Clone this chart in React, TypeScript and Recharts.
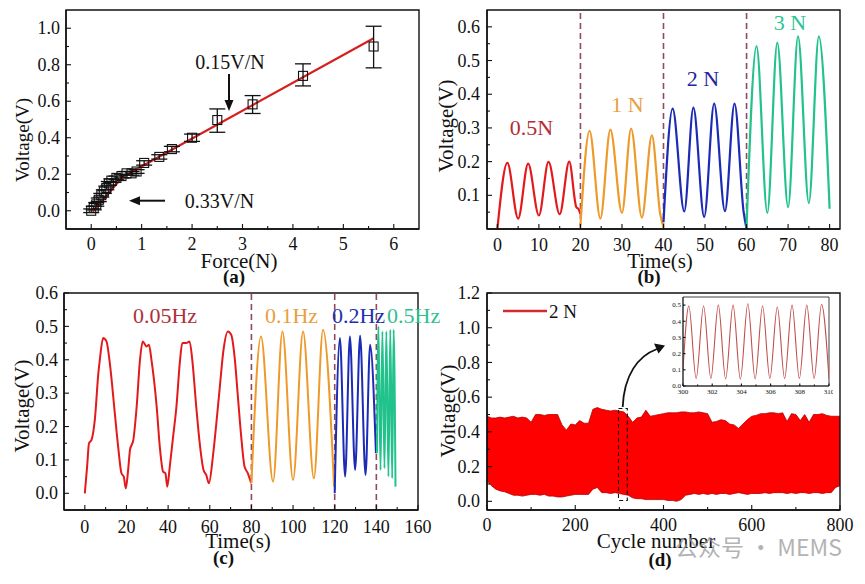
import {
  Area,
  ComposedChart,
  ErrorBar,
  Legend,
  Line,
  ReferenceArea,
  ReferenceLine,
  Scatter,
  XAxis,
  YAxis,
} from 'recharts';

const SERIF = '"Liberation Serif", "Times New Roman", serif';
const INK = '#111';
const RED = '#E31A1C';
const ORANGE = '#EE9A2A';
const BLUE = '#1C2BB5';
const GREEN = '#22C28C';
const DASH = '#8E4A5E';

// (a) voltage vs force
const forceN = [0.0, 0.05, 0.1, 0.15, 0.2, 0.25, 0.3, 0.35, 0.4, 0.5, 0.6, 0.7, 0.8, 0.9, 1.05, 1.35, 1.6, 2.0, 2.5, 3.2, 4.2, 5.6];
const forceV = [0.0, 0.015, 0.035, 0.06, 0.085, 0.105, 0.125, 0.15, 0.165, 0.18, 0.19, 0.205, 0.205, 0.215, 0.262, 0.295, 0.338, 0.4, 0.497, 0.583, 0.739, 0.9];
const forceErrLo = [0.01, 0.01, 0.01, 0.01, 0.01, 0.01, 0.01, 0.01, 0.01, 0.01, 0.01, 0.01, 0.01, 0.01, 0.012, 0.012, 0.015, 0.02, 0.067, 0.05, 0.055, 0.117];
const forceErrHi = [0.01, 0.01, 0.01, 0.01, 0.01, 0.01, 0.01, 0.01, 0.01, 0.01, 0.01, 0.01, 0.01, 0.01, 0.012, 0.012, 0.015, 0.02, 0.061, 0.048, 0.066, 0.111];
const fitN = [0.03, 0.62, 5.6];
const fitV = [-0.005, 0.185, 0.945];
const aTicksX = [0, 0.5, 1, 1.5, 2, 2.5, 3, 3.5, 4, 4.5, 5, 5.5, 6];
const aMajorX = [0, 1, 2, 3, 4, 5, 6];
const aTicksY = [0, 0.1, 0.2, 0.3, 0.4, 0.5, 0.6, 0.7, 0.8, 0.9, 1.0];
const aMajorY = [0, 0.2, 0.4, 0.6, 0.8, 1.0];

// (b) voltage under different forces
const b05T = [0, 2.4, 5, 7.4, 10, 12.3, 15, 17.3, 19.0, 19.6, 20];
const b05V = [0.0, 0.196, 0.031, 0.194, 0.04, 0.199, 0.044, 0.2, 0.065, 0.058, 0.045];
const b1T = [20, 22.2, 24.8, 27.2, 30, 32.2, 34.8, 37.2, 39.2, 40];
const b1V = [0.01, 0.291, 0.031, 0.295, 0.048, 0.298, 0.034, 0.278, 0.045, 0.005];
const b2T = [40, 42.2, 45, 47.2, 49.8, 52.2, 54.8, 57.1, 59.3, 60];
const b2V = [0.02, 0.357, 0.052, 0.36, 0.036, 0.372, 0.053, 0.372, 0.05, 0.0];
const b3T = [60, 62.4, 65, 67.4, 70, 72.4, 75, 77.4, 80];
const b3V = [0.005, 0.543, 0.048, 0.553, 0.065, 0.572, 0.077, 0.572, 0.06];
const bTicksX = [0, 5, 10, 15, 20, 25, 30, 35, 40, 45, 50, 55, 60, 65, 70, 75, 80];
const bMajorX = [0, 10, 20, 30, 40, 50, 60, 70, 80];
const bTicksY = [0.05, 0.1, 0.15, 0.2, 0.25, 0.3, 0.35, 0.4, 0.45, 0.5, 0.55, 0.6];
const bMajorY = [0.1, 0.2, 0.3, 0.4, 0.5, 0.6];
const bSplits = [20, 40, 60];

// (c) voltage under different frequencies
const c005T = [0, 1.1, 2, 3.2, 4.8, 6.5, 7.2, 8.8, 10.4, 12, 14.4, 16, 17.6, 18.7, 19.7, 20.8, 21.7, 23.3, 24.9, 26.5, 27.8, 29.7, 30.8, 32, 34.5, 36, 37.6, 38.7, 39.6, 40.8, 42.4, 44, 45.6, 46.8, 48.7, 50.3, 51.6, 53.5, 55, 57, 58.3, 59.6, 61.5, 63, 64.7, 66.6, 68.7, 70.3, 71.9, 73.5, 75.1, 76.7, 78.3, 79.9];
const c005V = [0.0, 0.08, 0.15, 0.16, 0.22, 0.36, 0.4, 0.465, 0.455, 0.39, 0.24, 0.14, 0.06, 0.05, 0.015, 0.07, 0.13, 0.16, 0.26, 0.4, 0.455, 0.44, 0.445, 0.4, 0.26, 0.14, 0.065, 0.06, 0.02, 0.08, 0.17, 0.26, 0.39, 0.45, 0.45, 0.455, 0.4, 0.26, 0.16, 0.07, 0.055, 0.03, 0.11, 0.2, 0.31, 0.43, 0.485, 0.475, 0.41, 0.29, 0.17, 0.08, 0.06, 0.03];
const c01T = [80, 84.6, 90.4, 94.9, 100, 104.8, 110, 114.4, 119.7];
const c01V = [0.03, 0.47, 0.035, 0.485, 0.04, 0.485, 0.045, 0.49, 0.02];
const c02T = [120, 122.5, 125, 127.3, 129.8, 132.2, 134.8, 137, 139.8];
const c02V = [0.0, 0.465, 0.05, 0.47, 0.07, 0.472, 0.055, 0.445, 0.12];
const c05T = [140.3, 141.0, 142.0, 142.9, 143.9, 144.8, 145.8, 146.7, 147.6, 148.3, 149.2];
const c05V = [0.12, 0.5, 0.07, 0.485, 0.075, 0.485, 0.05, 0.49, 0.045, 0.49, 0.02];
const cTicksX = [0, 10, 20, 30, 40, 50, 60, 70, 80, 90, 100, 110, 120, 130, 140, 150, 160];
const cMajorX = [0, 20, 40, 60, 80, 100, 120, 140, 160];
const cTicksY = [0, 0.05, 0.1, 0.15, 0.2, 0.25, 0.3, 0.35, 0.4, 0.45, 0.5, 0.55, 0.6];
const cMajorY = [0, 0.1, 0.2, 0.3, 0.4, 0.5, 0.6];
const cSplits = [80, 120, 140];

// (d) cycling test envelope (every 10 cycles)
const dCycle = [0, 10, 20, 30, 40, 50, 60, 70, 80, 90, 100, 110, 120, 130, 140, 150, 160, 170, 180, 190, 200, 210, 220, 230, 240, 250, 260, 270, 280, 290, 300, 310, 320, 330, 340, 350, 360, 370, 380, 390, 400, 410, 420, 430, 440, 450, 460, 470, 480, 490, 500, 510, 520, 530, 540, 550, 560, 570, 580, 590, 600, 610, 620, 630, 640, 650, 660, 670, 680, 690, 700, 710, 720, 730, 740, 750, 760, 770, 780, 790, 800];
const dHi = [
  0.49, 0.48, 0.48, 0.485, 0.48, 0.485, 0.49, 0.48, 0.485, 0.48,
  0.455, 0.5, 0.5, 0.495, 0.5, 0.5, 0.5, 0.44, 0.41, 0.445,
  0.44, 0.465, 0.45, 0.45, 0.53, 0.54, 0.53, 0.525, 0.52, 0.525,
  0.52, 0.515, 0.49, 0.455, 0.48, 0.485, 0.525, 0.49, 0.495, 0.5,
  0.505, 0.51, 0.51, 0.51, 0.515, 0.515, 0.51, 0.51, 0.515, 0.51,
  0.505, 0.455, 0.46, 0.47, 0.465, 0.445, 0.44, 0.42, 0.445, 0.47,
  0.49, 0.495, 0.505, 0.505, 0.51, 0.51, 0.505, 0.51, 0.46, 0.505,
  0.5, 0.465, 0.5, 0.455, 0.5, 0.5, 0.505, 0.495, 0.49, 0.49, 0.49,
];
const dLo = [
  0.12, 0.09, 0.07, 0.06, 0.055, 0.045, 0.035, 0.035, 0.03, 0.035,
  0.04, 0.04, 0.035, 0.04, 0.03, 0.03, 0.025, 0.025, 0.03, 0.035,
  0.04, 0.04, 0.04, 0.04, 0.07, 0.08, 0.05, 0.05, 0.045, 0.05,
  0.045, 0.04, 0.035, 0.02, 0.015, 0.015, 0.01, 0.01, 0.01, 0.01,
  0.01, 0.005, 0.005, 0.0, 0.01, 0.035, 0.04, 0.045, 0.04, 0.045,
  0.04, 0.045, 0.04, 0.045, 0.045, 0.04, 0.045, 0.05, 0.045, 0.04,
  0.045, 0.045, 0.045, 0.05, 0.045, 0.05, 0.05, 0.05, 0.045, 0.05,
  0.045, 0.05, 0.05, 0.045, 0.05, 0.05, 0.045, 0.05, 0.05, 0.08, 0.09,
];
const dTicksX = [0, 100, 200, 300, 400, 500, 600, 700, 800];
const dMajorX = [0, 200, 400, 600, 800];
const dTicksY = [0, 0.1, 0.2, 0.3, 0.4, 0.5, 0.6, 0.7, 0.8, 0.9, 1.0, 1.1, 1.2];
const dMajorY = [0, 0.2, 0.4, 0.6, 0.8, 1.0, 1.2];

// (d) inset, cycles 300-310
const inT = [300, 300.4, 300.9, 301.41, 301.91, 302.42, 302.92, 303.43, 303.93, 304.44, 304.94, 305.45, 305.95, 306.46, 306.96, 307.47, 307.97, 308.48, 308.98, 309.49, 310];
const inV = [0.1, 0.494, 0.046, 0.494, 0.046, 0.5, 0.044, 0.5, 0.042, 0.508, 0.044, 0.494, 0.046, 0.488, 0.046, 0.5, 0.046, 0.5, 0.046, 0.504, 0.044];
const inTicksX = [300, 301, 302, 303, 304, 305, 306, 307, 308, 309, 310];
const inMajorX = [300, 302, 304, 306, 308, 310];
const inTicksY = [0, 0.1, 0.2, 0.3, 0.4, 0.5];

const zip = (xs: number[], ys: number[], k = 't') => xs.map((x, i) => ({ [k]: x, v: ys[i] }));
const near = (list: number[], v: number) => list.some((m) => Math.abs(m - v) < 1e-6);

function xTick(majors: number[], digits: number, fs: number, gap: number, len = 5) {
  return (p: any) => {
    const v = p.payload.value;
    const major = near(majors, v);
    return (
      <g>
        <line x1={p.x} x2={p.x} y1={p.y} y2={p.y - (major ? len : len * 0.6)} stroke={INK} strokeWidth={1.1} />
        {major && (
          <text x={p.x} y={p.y + gap} textAnchor="middle" fontFamily={SERIF} fontSize={fs} fill={INK}>
            {v.toFixed(digits)}
          </text>
        )}
      </g>
    );
  };
}

function yTick(majors: number[], digits: number, fs: number, gap: number, len = 5) {
  return (p: any) => {
    const v = p.payload.value;
    const major = near(majors, v);
    return (
      <g>
        <line x1={p.x} x2={p.x + (major ? len : len * 0.6)} y1={p.y} y2={p.y} stroke={INK} strokeWidth={1.1} />
        {major && (
          <text x={p.x - gap} y={p.y + fs * 0.34} textAnchor="end" fontFamily={SERIF} fontSize={fs} fill={INK}>
            {v.toFixed(digits)}
          </text>
        )}
      </g>
    );
  };
}

const axisBase = {
  type: 'number' as const,
  interval: 0 as const,
  tickSize: 0,
  tickMargin: 0,
  tickLine: false,
  allowDataOverflow: true,
  axisLine: { stroke: INK, strokeWidth: 1.4 },
};

const YW = 60;
const XH = 40;
const MT = 10;
const MR = 20;

function Frame(x: [number, number], y: [number, number], w = 1.4) {
  return (
    <ReferenceArea x1={x[0]} x2={x[1]} y1={y[0]} y2={y[1]} fill="none" stroke={INK} strokeWidth={w} ifOverflow="visible" />
  );
}

function Box({ left, top, children }: { left: number; top: number; children: any }) {
  return <div style={{ position: 'absolute', left, top }}>{children}</div>;
}

function PanelA() {
  const pts = forceN.map((x, i) => ({ x, y: forceV[i], err: [forceErrLo[i], forceErrHi[i]] }));
  const fit = fitN.map((x, i) => ({ x, y: fitV[i] }));
  const xd: [number, number] = [-0.5, 6.5];
  const yd: [number, number] = [-0.1, 1.1];
  return (
    <ComposedChart width={YW + 353 + MR} height={MT + 219 + XH} margin={{ top: MT, right: MR, bottom: 0, left: 0 }}>
      <XAxis {...axisBase} dataKey="x" domain={xd} ticks={aTicksX} height={XH} tick={xTick(aMajorX, 0, 18, 21)} />
      <YAxis {...axisBase} dataKey="y" domain={yd} ticks={aTicksY} width={YW} tick={yTick(aMajorY, 1, 18, 6)} />
      {Frame(xd, yd)}
      <Line data={fit} dataKey="y" type="linear" stroke="#D62020" strokeWidth={2.2} dot={false} isAnimationActive={false} />
      <Scatter
        data={pts}
        dataKey="y"
        isAnimationActive={false}
        shape={(p: any) => (
          <rect x={p.cx - 4.5} y={p.cy - 4.5} width={9} height={9} fill="none" stroke={INK} strokeWidth={1.1} />
        )}
      >
        <ErrorBar dataKey="err" direction="y" width={8} stroke={INK} strokeWidth={1.3} />
      </Scatter>
    </ComposedChart>
  );
}

function PanelB() {
  const xd: [number, number] = [-2.5, 82.5];
  const yd: [number, number] = [0, 0.65];
  const series = [
    { d: zip(b05T, b05V), c: RED },
    { d: zip(b1T, b1V), c: ORANGE },
    { d: zip(b2T, b2V), c: BLUE },
    { d: zip(b3T, b3V), c: GREEN },
  ];
  return (
    <ComposedChart width={YW + 353 + MR} height={MT + 219 + XH} margin={{ top: MT, right: MR, bottom: 0, left: 0 }}>
      <XAxis {...axisBase} dataKey="t" domain={xd} ticks={bTicksX} height={XH} tick={xTick(bMajorX, 0, 18, 22)} />
      <YAxis {...axisBase} domain={yd} ticks={bTicksY} width={YW} tick={yTick(bMajorY, 1, 18, 7)} />
      {Frame(xd, yd)}
      {bSplits.map((s) => (
        <ReferenceLine key={s} x={s} stroke={DASH} strokeWidth={1.6} strokeDasharray="6 4" />
      ))}
      {series.map((s, i) => (
        <Line key={i} data={s.d} dataKey="v" type="monotone" stroke={s.c} strokeWidth={2.2} dot={false} isAnimationActive={false} />
      ))}
    </ComposedChart>
  );
}

function PanelC() {
  const xd: [number, number] = [-10, 160];
  const yd: [number, number] = [-0.05, 0.6];
  const series = [
    { d: zip(c005T, c005V), c: RED },
    { d: zip(c01T, c01V), c: ORANGE },
    { d: zip(c02T, c02V), c: BLUE },
    { d: zip(c05T, c05V), c: GREEN },
  ];
  return (
    <ComposedChart width={YW + 354 + MR} height={MT + 217 + XH} margin={{ top: MT, right: MR, bottom: 0, left: 0 }}>
      <XAxis {...axisBase} dataKey="t" domain={xd} ticks={cTicksX} height={XH} tick={xTick(cMajorX, 0, 18, 23)} />
      <YAxis {...axisBase} domain={yd} ticks={cTicksY} width={YW} tick={yTick(cMajorY, 1, 18, 6)} />
      {Frame(xd, yd)}
      {cSplits.map((s) => (
        <ReferenceLine key={s} x={s} stroke={DASH} strokeWidth={1.6} strokeDasharray="6 4" />
      ))}
      {series.map((s, i) => (
        <Line key={i} data={s.d} dataKey="v" type="monotone" stroke={s.c} strokeWidth={2} dot={false} isAnimationActive={false} />
      ))}
    </ComposedChart>
  );
}

function LegendD(props: any) {
  const label = props.payload?.[0]?.value ?? '2 N';
  return (
    <svg width={110} height={24}>
      <line x1={2} x2={46} y1={10} y2={10} stroke="#D42A2A" strokeWidth={2.5} />
      <text x={48} y={16.5} fontFamily={SERIF} fontSize={19} fill={INK}>
        {label}
      </text>
    </svg>
  );
}

function PanelD() {
  const xd: [number, number] = [0, 800];
  const yd: [number, number] = [-0.05, 1.2];
  const data = dCycle.map((c, i) => ({ c, band: [dLo[i], dHi[i]] }));
  return (
    <ComposedChart width={YW + 353 + MR} height={MT + 217 + XH} data={data} margin={{ top: MT, right: MR, bottom: 0, left: 0 }}>
      <XAxis {...axisBase} dataKey="c" domain={xd} ticks={dTicksX} height={XH} tick={xTick(dMajorX, 0, 18, 21)} />
      <YAxis {...axisBase} domain={yd} ticks={dTicksY} width={YW} tick={yTick(dMajorY, 1, 18, 7)} />
      <Area
        dataKey="band"
        name="2 N"
        type="linear"
        stroke="#B00000"
        strokeWidth={0.8}
        fill="#FF0000"
        fillOpacity={1}
        isAnimationActive={false}
        legendType="line"
      />
      {Frame(xd, yd)}
      <ReferenceArea x1={298} x2={318} y1={0.005} y2={0.535} fill="none" stroke={INK} strokeWidth={1.1} strokeDasharray="4 3" ifOverflow="visible" />
      <Legend layout="vertical" align="center" verticalAlign="middle" content={LegendD} wrapperStyle={{ left: 74, top: 18, width: 110 }} />
    </ComposedChart>
  );
}

function Inset() {
  const xd: [number, number] = [300, 310];
  const yd: [number, number] = [0, 0.55];
  return (
    <ComposedChart width={20 + 146 + 4} height={2 + 89 + 14} margin={{ top: 2, right: 4, bottom: 0, left: 0 }}>
      <XAxis {...axisBase} axisLine={{ stroke: INK, strokeWidth: 0.8 }} dataKey="t" domain={xd} ticks={inTicksX} height={14} tick={xTick(inMajorX, 0, 7, 8, 2.5)} />
      <YAxis {...axisBase} axisLine={{ stroke: INK, strokeWidth: 0.8 }} domain={yd} ticks={inTicksY} width={20} tick={yTick(inTicksY, 1, 7, 2, 2.5)} />
      {Frame(xd, yd, 0.8)}
      <Line data={zip(inT, inV)} dataKey="v" type="monotone" stroke="#C0504D" strokeWidth={1.1} dot={false} isAnimationActive={false} />
    </ComposedChart>
  );
}

function T({ x, y, s = 21, c = INK, b = false, a = 'middle', r = false, children }: any) {
  return (
    <text
      x={x}
      y={y}
      fontFamily={SERIF}
      fontSize={s}
      fill={c}
      fontWeight={b ? 'bold' : 'normal'}
      textAnchor={a}
      transform={r ? `rotate(-90 ${x} ${y})` : undefined}
    >
      {children}
    </text>
  );
}

function Overlay() {
  return (
    <svg width={865} height={584} style={{ position: 'absolute', left: 0, top: 0, pointerEvents: 'none' }}>
      {/* (a) */}
      <T x={29} y={140} s={19} r>Voltage(V)</T>
      <T x={239} y={268}>Force(N)</T>
      <T x={234} y={283} s={19} b>(a)</T>
      <T x={230} y={69} s={20}>0.15V/N</T>
      <line x1={229} y1={74} x2={229} y2={101} stroke={INK} strokeWidth={2} />
      <polygon points="224.5,100 233.5,100 229,111" fill={INK} />
      <T x={219.5} y={208} s={20}>0.33V/N</T>
      <line x1={165} y1={200.7} x2={139} y2={200.7} stroke={INK} strokeWidth={2} />
      <polygon points="140,196.2 140,205.2 129,200.7" fill={INK} />

      {/* (b) */}
      <T x={453} y={126} r>Voltage(V)</T>
      <T x={660} y={268}>Time(s)</T>
      <T x={649} y={283} s={19} b>(b)</T>
      <T x={531.5} y={135} s={22} c="#B82A35">0.5N</T>
      <T x={627.5} y={112} s={22} c="#E8A040">1 N</T>
      <T x={703} y={85.5} s={22} c="#2424A0">2 N</T>
      <T x={790} y={29.5} s={22} c="#2DC495">3 N</T>

      {/* (c) */}
      <T x={29} y={406} r>Voltage(V)</T>
      <T x={238} y={548}>Time(s)</T>
      <T x={223.5} y={564} s={19} b>(c)</T>
      <T x={165} y={322.5} s={22} c="#B0303A">0.05Hz</T>
      <T x={291.5} y={322.5} s={22} c="#E8A040">0.1Hz</T>
      <T x={358.5} y={322.5} s={22} c="#2030B0">0.2Hz</T>
      <T x={387} y={322.5} s={22} c="#30C090" a="start">0.5Hz</T>

      {/* (d) */}
      <T x={455} y={411} r>Voltage(V)</T>
      <T x={656} y={548}>Cycle number</T>
      <T x={660} y={566} s={19} b>(d)</T>
      <path d="M 622.7 407 C 624 375, 638 356, 657 349" fill="none" stroke={INK} strokeWidth={1.8} />
      <polygon points="654,343.5 658.5,353.5 665,345.5" fill={INK} />
      <text x={675} y={556} fontFamily='"Noto Sans CJK SC", "Noto Sans", sans-serif' fontSize={23} fill="#9a9a9a" opacity={0.75}>
        公众号 · MEMS
      </text>
    </svg>
  );
}

export default function App() {
  return (
    <div style={{ position: 'absolute', left: 0, top: 0, width: 865, height: 584, background: '#fff', overflow: 'hidden' }}>
      <Box left={66 - YW} top={10 - MT}>
        <PanelA />
      </Box>
      <Box left={487 - YW} top={10 - MT}>
        <PanelB />
      </Box>
      <Box left={64 - YW} top={293 - MT}>
        <PanelC />
      </Box>
      <Box left={487 - YW} top={293 - MT}>
        <PanelD />
      </Box>
      <Box left={683 - 20} top={297 - 2}>
        <Inset />
      </Box>
      <Overlay />
    </div>
  );
}
